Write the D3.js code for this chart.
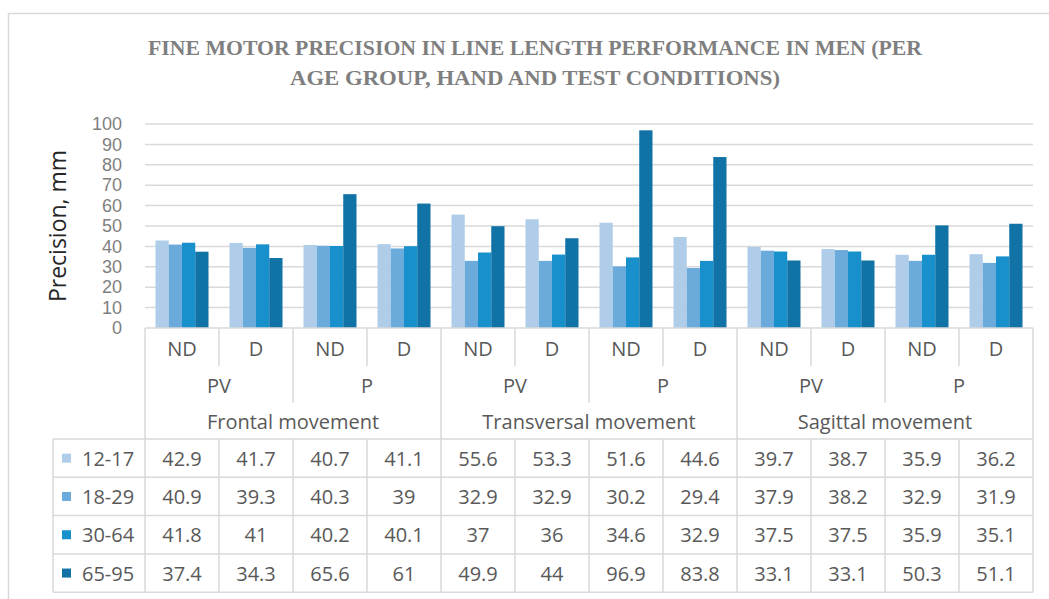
<!DOCTYPE html>
<html>
<head>
<meta charset="utf-8">
<script src="https://cdn.jsdelivr.net/npm/d3@7"></script>
<style>
  body { margin: 0; background: #fff; }
  svg { display: block; }
</style>
</head>
<body>
<div id="chart"></div>
<script>
// categories (3 levels of the x axis)
const hands = ["ND", "D", "ND", "D", "ND", "D", "ND", "D", "ND", "D", "ND", "D"];
const conditions = ["PV", "P", "PV", "P", "PV", "P"];
const movements = ["Frontal movement", "Transversal movement", "Sagittal movement"];

// series
const ageGroups = ["12-17", "18-29", "30-64", "65-95"];
const v1217 = [42.9, 41.7, 40.7, 41.1, 55.6, 53.3, 51.6, 44.6, 39.7, 38.7, 35.9, 36.2];
const v1829 = [40.9, 39.3, 40.3, 39, 32.9, 32.9, 30.2, 29.4, 37.9, 38.2, 32.9, 31.9];
const v3064 = [41.8, 41, 40.2, 40.1, 37, 36, 34.6, 32.9, 37.5, 37.5, 35.9, 35.1];
const v6595 = [37.4, 34.3, 65.6, 61, 49.9, 44, 96.9, 83.8, 33.1, 33.1, 50.3, 51.1];
const yTicks = [0, 10, 20, 30, 40, 50, 60, 70, 80, 90, 100];

const values = [v1217, v1829, v3064, v6595];
const colors = ["#afcde9", "#6aabdc", "#1890cc", "#1172a6"];

const W = 1049, H = 599;
const left = 145, right = 1033;
const grid = "#d9d9d9";
const txt = "#595959";
const font = "'Open Sans', sans-serif";

const svg = d3.select("#chart").append("svg")
    .attr("width", W)
    .attr("height", H);

// outer chart border
svg.append("rect")
   .attr("x", 8.5).attr("y", 13.5)
   .attr("width", 1100).attr("height", 700)
   .attr("fill", "none")
   .attr("stroke", grid)
   .attr("stroke-width", 1.5);

// title
const title = svg.append("text")
   .attr("text-anchor", "middle")
   .attr("font-family", "'Liberation Serif', serif")
   .attr("font-weight", "bold")
   .attr("font-size", 20)
   .attr("fill", "#7f7f7f");
title.append("tspan").attr("x", 535).attr("y", 55)
   .attr("textLength", 774).attr("lengthAdjust", "spacingAndGlyphs")
   .text("FINE MOTOR PRECISION IN LINE LENGTH PERFORMANCE IN MEN (PER");
title.append("tspan").attr("x", 535).attr("y", 85)
   .attr("textLength", 490).attr("lengthAdjust", "spacingAndGlyphs")
   .text("AGE GROUP, HAND AND TEST CONDITIONS)");

const idx = d3.range(hands.length);
const x = d3.scaleBand().domain(idx).range([left, right]).padding(0);
const xs = d3.scaleBand().domain(ageGroups).range([10.5, x.bandwidth() - 10.5]).padding(0);
const y = d3.scaleLinear().domain([0, 100]).range([328, 124]);

// gridlines
svg.append("g").selectAll("line").data(yTicks.filter(d => d > 0)).join("line")
   .attr("x1", left).attr("x2", right)
   .attr("y1", d => y(d)).attr("y2", d => y(d))
   .attr("stroke", grid).attr("stroke-width", 1.5);

// y axis labels
const yAxis = svg.append("g")
   .attr("transform", `translate(${left},0)`)
   .call(d3.axisLeft(y).tickValues(yTicks).tickSize(0).tickPadding(23));
yAxis.select(".domain").remove();
yAxis.selectAll("text")
   .attr("font-family", "'Liberation Sans', sans-serif")
   .attr("font-size", 18)
   .attr("fill", "#7f7f7f");

// y axis title
svg.append("text")
   .attr("transform", "translate(66,226) rotate(-90)")
   .attr("text-anchor", "middle")
   .attr("font-family", font)
   .attr("font-size", 23)
   .attr("fill", "#262626")
   .text("Precision, mm");

// bars
ageGroups.forEach((g, s) => {
  svg.append("g").selectAll("rect").data(values[s]).join("rect")
     .attr("x", (d, i) => x(i) + xs(g))
     .attr("y", d => y(d))
     .attr("width", xs.bandwidth())
     .attr("height", d => y(0) - y(d))
     .attr("fill", colors[s]);
});

// x axis / data table
const rowTop = 439, rowH = 38.3;
const rows = d3.range(ageGroups.length + 1).map(i => rowTop + i * rowH);
const tableBottom = rows[rows.length - 1];
const lines = svg.append("g").attr("stroke", grid).attr("stroke-width", 1.5);

lines.append("line").attr("x1", left).attr("x2", right).attr("y1", 328).attr("y2", 328);
rows.forEach(r => lines.append("line").attr("x1", 53).attr("x2", right).attr("y1", r).attr("y2", r));
lines.append("line").attr("x1", 53).attr("x2", 53).attr("y1", rowTop).attr("y2", tableBottom);

idx.concat([hands.length]).forEach(i => {
  const xx = i < hands.length ? x(i) : right;
  let yEnd = 366;
  if (i % 4 === 0) yEnd = tableBottom;
  else if (i % 2 === 0) yEnd = 403;
  lines.append("line").attr("x1", xx).attr("x2", xx).attr("y1", 328).attr("y2", yEnd);
  if (yEnd !== tableBottom) {
    lines.append("line").attr("x1", xx).attr("x2", xx).attr("y1", rowTop).attr("y2", tableBottom);
  }
});

const labels = svg.append("g")
   .attr("font-family", font)
   .attr("font-size", 20)
   .attr("fill", txt)
   .attr("text-anchor", "middle")
   .attr("dominant-baseline", "central");

labels.selectAll(".hand").data(hands).join("text")
   .attr("x", (d, i) => x(i) + x.bandwidth() / 2)
   .attr("y", 348)
   .text(d => d);

labels.selectAll(".cond").data(conditions).join("text")
   .attr("x", (d, i) => x(i * 2) + x.bandwidth())
   .attr("y", 385)
   .text(d => d);

labels.selectAll(".mov").data(movements).join("text")
   .attr("x", (d, i) => x(i * 4) + x.bandwidth() * 2)
   .attr("y", 421)
   .text(d => d);

ageGroups.forEach((g, s) => {
  const cy = rows[s] + rowH / 2;
  svg.append("rect")
     .attr("x", 62).attr("y", cy - 4.5)
     .attr("width", 9).attr("height", 9)
     .attr("fill", colors[s]);
  labels.append("text")
     .attr("x", 82).attr("y", cy)
     .attr("text-anchor", "start")
     .text(g);
  labels.append("g").selectAll("text").data(values[s]).join("text")
     .attr("x", (d, i) => x(i) + x.bandwidth() / 2)
     .attr("y", cy)
     .text(d => d);
});
</script>
</body>
</html>
